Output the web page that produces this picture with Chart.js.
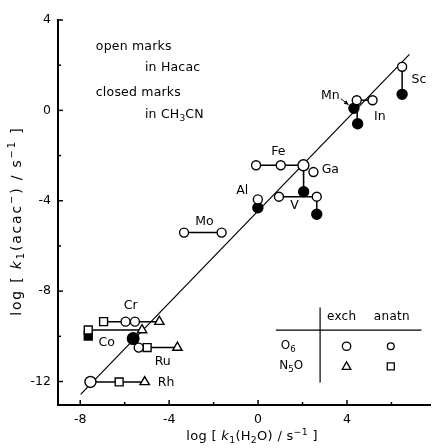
<!DOCTYPE html>
<html>
<head>
<meta charset="utf-8">
<script src="https://cdn.jsdelivr.net/npm/chart.js@4.4.1/dist/chart.umd.min.js"></script>
<style>
  html, body { margin: 0; padding: 0; background: #fff; }
  #wrap { width: 438px; height: 448px; }
</style>
</head>
<body>
<div id="wrap"><canvas id="chart"></canvas></div>
<script>
  // axis ticks
  const xTicks = [-8, -4, 0, 4];
  const yTicks = [4, 0, -4, -8, -12];
  const xMinor = [-6, -2, 2, 6];
  const yMinor = [2, -2, -6, -10];

  // correlation line
  const fitLine = [{x: -7.98, y: -12.57}, {x: 6.81, y: 2.48}];

  // open marks = in Hacac
  const openCircles = [
    {x: 6.48, y: 1.93},   // Sc
    {x: 4.44, y: 0.45},   // Mn
    {x: 5.15, y: 0.45},   // In
    {x: -0.09, y: -2.43}, // Fe
    {x: 1.02, y: -2.43},
    {x: 2.04, y: -2.43},
    {x: 2.49, y: -2.73},  // Ga
    {x: 0.94, y: -3.82},  // V
    {x: 2.64, y: -3.82},
    {x: -0.01, y: -3.94}, // Al
    {x: -3.33, y: -5.41}, // Mo
    {x: -1.64, y: -5.41},
    {x: -5.96, y: -9.35}, // Cr
    {x: -5.54, y: -9.35},
    {x: -5.37, y: -10.50}, // Ru
    {x: -7.54, y: -12.02}  // Rh
  ];
  const openSquares = [
    {x: -7.64, y: -9.72},  // Co
    {x: -6.95, y: -9.35},  // Cr
    {x: -4.99, y: -10.50}, // Ru
    {x: -6.25, y: -12.02}  // Rh
  ];
  const openTriangles = [
    {x: -5.22, y: -9.72},  // Co
    {x: -4.44, y: -9.35},  // Cr
    {x: -3.63, y: -10.50}, // Ru
    {x: -5.10, y: -12.02}  // Rh
  ];

  // closed marks = in CH3CN
  const filledCircles = [
    {x: 6.48, y: 0.71},   // Sc
    {x: 4.31, y: 0.09},   // Mn
    {x: 4.48, y: -0.59},  // In
    {x: 2.05, y: -3.60},  // Ga
    {x: 2.64, y: -4.60},  // V
    {x: -0.01, y: -4.31}, // Al
    {x: -5.62, y: -10.10} // Cr / Co
  ];
  const filledSquares = [
    {x: -7.64, y: -9.99}  // Co
  ];

  // tie lines between marks of one metal
  const tieLines = [
    [{x: 6.48, y: 1.93}, {x: 6.48, y: 0.71}],
    [{x: 4.44, y: 0.45}, {x: 5.15, y: 0.45}],
    [{x: 4.46, y: 0.45}, {x: 4.46, y: -0.59}],
    [{x: -0.09, y: -2.43}, {x: 2.04, y: -2.43}],
    [{x: 2.04, y: -2.43}, {x: 2.05, y: -3.60}],
    [{x: 0.94, y: -3.82}, {x: 2.64, y: -3.82}],
    [{x: 2.64, y: -3.82}, {x: 2.64, y: -4.60}],
    [{x: -3.33, y: -5.41}, {x: -1.64, y: -5.41}],
    [{x: -6.95, y: -9.35}, {x: -4.44, y: -9.35}],
    [{x: -7.64, y: -9.72}, {x: -5.22, y: -9.72}],
    [{x: -5.37, y: -10.50}, {x: -3.63, y: -10.50}],
    [{x: -7.54, y: -12.02}, {x: -5.10, y: -12.02}]
  ];

  // metal labels
  const metalLabels = [
    {t: 'Sc', x: 6.90, y: 1.37, a: 'left'},
    {t: 'Mn', x: 3.67, y: 0.66, a: 'right'},
    {t: 'In', x: 5.22, y: -0.27, a: 'left'},
    {t: 'Fe', x: 0.91, y: -1.85, a: 'center'},
    {t: 'Ga', x: 2.86, y: -2.64, a: 'left'},
    {t: 'Al', x: -0.71, y: -3.57, a: 'center'},
    {t: 'V', x: 1.64, y: -4.23, a: 'center'},
    {t: 'Mo', x: -2.41, y: -4.94, a: 'center'},
    {t: 'Cr', x: -5.73, y: -8.66, a: 'center'},
    {t: 'Co', x: -6.81, y: -10.28, a: 'center'},
    {t: 'Ru', x: -4.29, y: -11.14, a: 'center'},
    {t: 'Rh', x: -4.51, y: -12.06, a: 'left'}
  ];

  const FONT = '"DejaVu Sans", sans-serif';

  function line(ctx, x1, y1, x2, y2) {
    ctx.beginPath();
    ctx.moveTo(x1, y1);
    ctx.lineTo(x2, y2);
    ctx.stroke();
  }

  // runs: [text, kind] with kind '', 'sub', 'sup' or 'it'
  function rich(ctx, runs, x, y, size, align, spacing) {
    const fontOf = k => (k === 'it' ? 'italic ' : '') +
      ((k === 'sub' || k === 'sup') ? size * 0.72 : size) + 'px ' + FONT;
    ctx.textBaseline = 'middle';
    ctx.textAlign = 'left';
    ctx.letterSpacing = (spacing || 0) + 'px';
    let w = 0;
    runs.forEach(r => { ctx.font = fontOf(r[1]); w += ctx.measureText(r[0]).width; });
    let cx = align === 'center' ? x - w / 2 : align === 'right' ? x - w : x;
    runs.forEach(r => {
      ctx.font = fontOf(r[1]);
      const dy = r[1] === 'sub' ? size * 0.3 : r[1] === 'sup' ? -size * 0.35 : 0;
      ctx.fillText(r[0], cx, y + dy);
      cx += ctx.measureText(r[0]).width;
    });
    ctx.letterSpacing = '0px';
  }

  const extras = {
    id: 'extras',
    afterDraw(chart) {
      const ctx = chart.ctx;
      const sx = chart.scales.x, sy = chart.scales.y;
      const px = v => sx.getPixelForValue(v);
      const py = v => sy.getPixelForValue(v);
      const {left, bottom} = chart.chartArea;

      ctx.save();
      ctx.strokeStyle = '#000';
      ctx.fillStyle = '#000';

      // inward tick marks
      ctx.lineWidth = 1.5;
      xTicks.forEach(v => line(ctx, px(v), bottom, px(v), bottom - 5));
      xMinor.forEach(v => line(ctx, px(v), bottom, px(v), bottom - 3));
      yTicks.forEach(v => line(ctx, left, py(v), left + 5, py(v)));
      yMinor.forEach(v => line(ctx, left, py(v), left + 3, py(v)));

      // metal labels
      metalLabels.forEach(l => rich(ctx, [[l.t, '']], px(l.x), py(l.y), 12.5, l.a));

      // arrow to Mn
      ctx.lineWidth = 1;
      const ax1 = px(3.72), ay1 = py(0.52), ax2 = px(4.07), ay2 = py(0.25);
      line(ctx, ax1, ay1, ax2, ay2);
      const ang = Math.atan2(ay2 - ay1, ax2 - ax1);
      ctx.beginPath();
      ctx.moveTo(ax2, ay2);
      ctx.lineTo(ax2 - 5 * Math.cos(ang - 0.45), ay2 - 5 * Math.sin(ang - 0.45));
      ctx.lineTo(ax2 - 5 * Math.cos(ang + 0.45), ay2 - 5 * Math.sin(ang + 0.45));
      ctx.closePath();
      ctx.fill();

      // key text
      rich(ctx, [['open marks', '']], px(-7.30), py(2.83), 12.5, 'left', 0.2);
      rich(ctx, [['in Hacac', '']], px(-5.09), py(1.90), 12.5, 'left', 0.2);
      rich(ctx, [['closed marks', '']], px(-7.30), py(0.80), 12.5, 'left', 0.2);
      rich(ctx, [['in CH', ''], ['3', 'sub'], ['CN', '']], px(-5.09), py(-0.18), 12.5, 'left', 0.2);

      // inset table
      ctx.lineWidth = 1.2;
      line(ctx, px(0.80), py(-9.73), px(7.35), py(-9.73));
      line(ctx, px(2.79), py(-8.72), px(2.79), py(-12.04));
      rich(ctx, [['exch', '']], px(3.76), py(-9.16), 12, 'center', 0.3);
      rich(ctx, [['anatn', '']], px(6.02), py(-9.16), 12, 'center', 0.3);
      rich(ctx, [['O', ''], ['6', 'sub']], px(1.02), py(-10.44), 12, 'left');
      rich(ctx, [['N', ''], ['5', 'sub'], ['O', '']], px(0.95), py(-11.33), 12, 'left');
      ctx.fillStyle = '#fff';
      ctx.lineWidth = 1.3;
      const c1x = px(3.98), c2x = px(5.97), r1 = py(-10.44), r2 = py(-11.33);
      ctx.beginPath(); ctx.arc(c1x, r1, 4.2, 0, Math.PI * 2); ctx.fill(); ctx.stroke();
      ctx.beginPath(); ctx.arc(c2x, r1, 3.4, 0, Math.PI * 2); ctx.fill(); ctx.stroke();
      ctx.beginPath();
      ctx.moveTo(c1x, r2 - 4.5);
      ctx.lineTo(c1x + 4.3, r2 + 3);
      ctx.lineTo(c1x - 4.3, r2 + 3);
      ctx.closePath(); ctx.fill(); ctx.stroke();
      ctx.beginPath(); ctx.rect(c2x - 3.5, r2 - 3.5, 7, 7); ctx.fill(); ctx.stroke();

      // axis titles
      ctx.fillStyle = '#000';
      rich(ctx, [['log [ ', ''], ['k', 'it'], ['1', 'sub'], ['(H', ''], ['2', 'sub'],
                 ['O) / s', ''], ['\u22121', 'sup'], [' ]', '']],
           px(-0.27), chart.height - 11, 13, 'center', 0.3);
      ctx.save();
      ctx.translate(17, py(-4.9));
      ctx.rotate(-Math.PI / 2);
      rich(ctx, [['log [ ', ''], ['k', 'it'], ['1', 'sub'], ['(acac', ''], ['\u2212', 'sup'],
                 [') / s', ''], ['\u22121', 'sup'], [' ]', '']],
           0, 0, 14, 'center', 1.8);
      ctx.restore();

      ctx.restore();
    }
  };

  const markBase = {
    borderColor: '#000',
    borderWidth: 1.4,
    showLine: false
  };

  const datasets = [
    Object.assign({}, markBase, {data: openCircles, pointStyle: 'circle', backgroundColor: '#fff',
      pointRadius: c => (c.dataIndex === 5 || c.dataIndex === 15) ? 5.5 : 4.5}),
    Object.assign({}, markBase, {data: openSquares, pointStyle: 'rect', pointRadius: 5.6, backgroundColor: '#fff'}),
    Object.assign({}, markBase, {data: openTriangles, pointStyle: 'triangle', pointRadius: 5.4, backgroundColor: '#fff'}),
    Object.assign({}, markBase, {data: filledCircles, pointStyle: 'circle', backgroundColor: '#000',
      pointRadius: c => c.dataIndex === 6 ? 5.8 : 5}),
    Object.assign({}, markBase, {data: filledSquares, pointStyle: 'rect', pointRadius: 5.6, backgroundColor: '#000'}),
    {data: fitLine, showLine: true, borderColor: '#000', borderWidth: 1.2, pointRadius: 0}
  ];
  tieLines.forEach(seg => datasets.push({
    data: seg, showLine: true, borderColor: '#000', borderWidth: 1.5, pointRadius: 0
  }));

  new Chart(document.getElementById('chart'), {
    type: 'scatter',
    data: {datasets: datasets},
    options: {
      responsive: true,
      maintainAspectRatio: false,
      animation: false,
      layout: {padding: {top: 20, right: 1, left: 0, bottom: 0}},
      plugins: {legend: {display: false}, tooltip: {enabled: false}},
      scales: {
        x: {
          type: 'linear',
          min: -9.0,
          max: 7.77,
          afterFit: s => { s.height = 43; },
          afterBuildTicks: s => { s.ticks = xTicks.map(v => ({value: v})); },
          grid: {display: false, drawTicks: false},
          border: {display: true, color: '#000', width: 2},
          ticks: {color: '#000', padding: 7, font: {family: FONT, size: 12.5}}
        },
        y: {
          type: 'linear',
          min: -13.04,
          max: 4,
          afterFit: s => { s.width = 58; },
          afterBuildTicks: s => { s.ticks = yTicks.map(v => ({value: v})); },
          grid: {display: false, drawTicks: false},
          border: {display: true, color: '#000', width: 2},
          ticks: {color: '#000', padding: 7, font: {family: FONT, size: 12.5}}
        }
      }
    },
    plugins: [extras]
  });
</script>
</body>
</html>
